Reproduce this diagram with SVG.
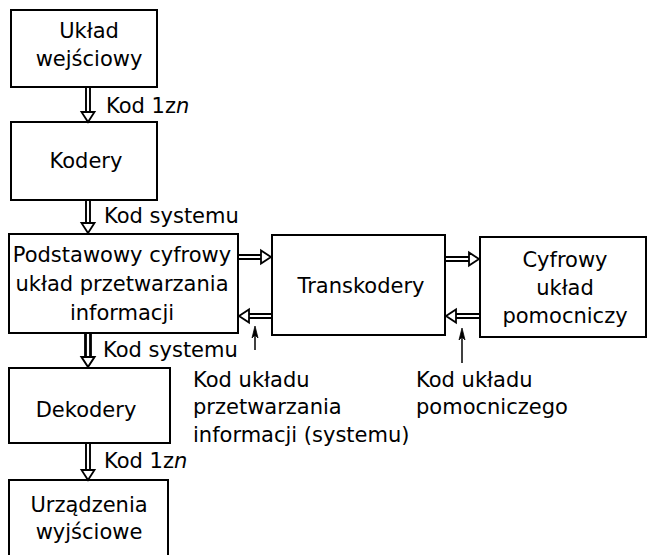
<svg xmlns="http://www.w3.org/2000/svg" width="648" height="555" viewBox="0 0 648 555">
<style>
.box{fill:#fff;stroke:#000;stroke-width:2}
text{font-family:"DejaVu Sans","Liberation Sans",sans-serif;font-size:21px;fill:#000}
.c{text-anchor:middle}
.ln{stroke:#000;stroke-width:1.9;fill:none}
.hd{fill:#fff;stroke:#000;stroke-width:1.8;stroke-linejoin:miter}
.thin{stroke:#000;stroke-width:1.5;fill:none}
.tip{fill:#000;stroke:#000;stroke-width:0.8}
</style>
<g id="uklad-wejsciowy">
<rect class="box" x="11" y="10" width="146" height="77"/>
<text class="c" x="89" y="38">Układ</text>
<text class="c" x="89" y="66">wejściowy</text>
</g>
<g id="kodery">
<rect class="box" x="11" y="122" width="146" height="78"/>
<text class="c" x="86" y="168">Kodery</text>
</g>
<g id="podstawowy">
<rect class="box" x="9" y="234" width="229" height="99"/>
<text class="c" x="122" y="262">Podstawowy cyfrowy</text>
<text class="c" x="122" y="291">układ przetwarzania</text>
<text class="c" x="122" y="320">informacji</text>
</g>
<g id="transkodery">
<rect class="box" x="272" y="235" width="173" height="100"/>
<text class="c" x="361" y="293">Transkodery</text>
</g>
<g id="cyfrowy-pomocniczy">
<rect class="box" x="480" y="237" width="166" height="100"/>
<text class="c" x="565" y="267">Cyfrowy</text>
<text class="c" x="565" y="295">układ</text>
<text class="c" x="565" y="323">pomocniczy</text>
</g>
<g id="dekodery">
<rect class="box" x="9" y="368" width="161" height="75"/>
<text class="c" x="86" y="417">Dekodery</text>
</g>
<g id="urzadzenia-wyjsciowe">
<rect class="box" x="9" y="480" width="159" height="90"/>
<text class="c" x="89" y="512">Urządzenia</text>
<text class="c" x="89" y="539">wyjściowe</text>
</g>
<g id="connectors">
<path class="ln" d="M86 87 V112 M90 87 V112"/>
<path class="hd" d="M81.5 112 H94.5 L88 122 Z"/>
<path class="ln" d="M86 200 V223 M90 200 V223"/>
<path class="hd" d="M81.5 223 H94.5 L88 233 Z"/>
<path class="ln" style="stroke-width:2.8" d="M85.5 333 V357 M90.5 333 V357"/>
<path class="hd" style="stroke-width:2" d="M81.5 357 H94.5 L88 367 Z"/>
<path class="ln" d="M86 443 V470 M90 443 V470"/>
<path class="hd" d="M81.5 470 H94.5 L88 480 Z"/>
<path class="ln" d="M238 255 H261 M238 259 H261"/>
<path class="hd" d="M261 250.5 V263.5 L271 257 Z"/>
<path class="ln" d="M272 314 H249 M272 318 H249"/>
<path class="hd" d="M249 309.5 V322.5 L239 316 Z"/>
<path class="ln" d="M445 257 H469 M445 261 H469"/>
<path class="hd" d="M469 252.5 V265.5 L479 259 Z"/>
<path class="ln" d="M480 314 H456 M480 318 H456"/>
<path class="hd" d="M456 309.5 V322.5 L446 316 Z"/>
<path class="thin" d="M255 350 V334"/>
<path class="tip" d="M252 338 L255 326 L258 338 L255 335 Z"/>
<path class="thin" d="M462 363 V336"/>
<path class="tip" d="M459 340 L462 328 L465 340 L462 337 Z"/>
</g>
<g id="labels">
<text x="106" y="113">Kod 1z<tspan font-style="italic">n</tspan></text>
<text x="104" y="223">Kod systemu</text>
<text x="103" y="357">Kod systemu</text>
<text x="104" y="468">Kod 1z<tspan font-style="italic">n</tspan></text>
<text x="193" y="387">Kod układu</text>
<text x="193" y="414">przetwarzania</text>
<text x="193" y="442">informacji (systemu)</text>
<text x="416" y="387">Kod układu</text>
<text x="416" y="414">pomocniczego</text>
</g>
</svg>
